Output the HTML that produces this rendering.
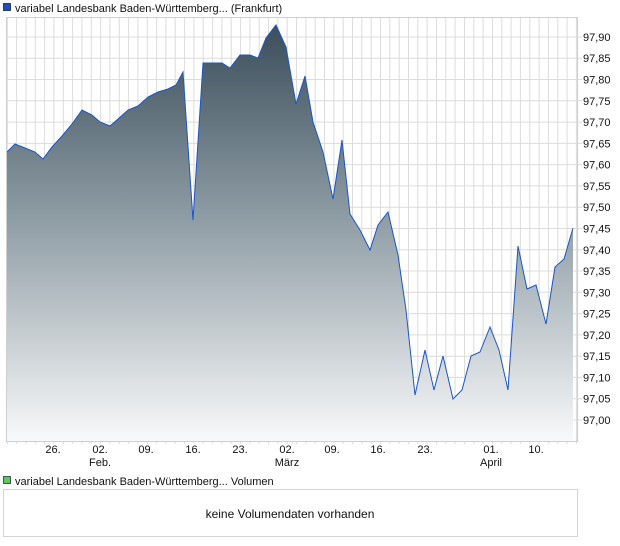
<!DOCTYPE html>
<html><head><meta charset="utf-8"><style>
body{margin:0;background:#fff;}
svg{display:block;font-family:"Liberation Sans",sans-serif;}
</style></head><body>
<svg width="620" height="546" viewBox="0 0 620 546">
<defs>
<linearGradient id="g" gradientUnits="userSpaceOnUse" x1="0" y1="25" x2="0" y2="441">
<stop offset="0" stop-color="#3b4e5b"/>
<stop offset="0.45" stop-color="#8c9aa2"/>
<stop offset="1" stop-color="#f8f9fa"/>
</linearGradient>
</defs>
<rect x="3.5" y="3.5" width="7" height="7" fill="#1f4fb0" stroke="#123" stroke-width="0.8"/>
<text x="15" y="12" font-size="11" fill="#111">variabel Landesbank Baden-Württemberg... (Frankfurt)</text>
<g id="grid" stroke="#dcdcdc" stroke-width="1"></g>
<polygon id="area" fill="url(#g)" points=""/>
<polyline id="line" fill="none" stroke="#1a56c8" stroke-width="1" points=""/>
<rect x="6.5" y="17.5" width="571" height="424" fill="none" stroke="#cfcfcf"/>
<g id="ylab" font-size="11" fill="#111"></g>
<g font-size="11" fill="#111" text-anchor="middle">
<text x="53" y="453">26.</text><text x="100" y="453">02.</text><text x="146" y="453">09.</text>
<text x="193" y="453">16.</text><text x="240" y="453">23.</text><text x="287" y="453">02.</text>
<text x="332" y="453">09.</text><text x="378" y="453">16.</text><text x="425" y="453">23.</text>
<text x="491" y="453">01.</text><text x="536" y="453">10.</text>
<text x="100" y="466">Feb.</text><text x="287" y="466">März</text><text x="491" y="466">April</text>
</g>
<rect x="3.5" y="476.5" width="7" height="7" fill="#5cc85c" stroke="#234" stroke-width="0.8"/>
<text x="15" y="485" font-size="11" fill="#111">variabel Landesbank Baden-Württemberg... Volumen</text>
<rect x="3.5" y="489.5" width="574" height="47" fill="#fff" stroke="#d4d4d4"/>
<text x="290" y="518" font-size="12" fill="#111" text-anchor="middle">keine Volumendaten vorhanden</text>
</svg>
<script>
var pts=[[7,152],[15,144],[25,148],[35,152],[43,159],[52,147],[62,136],[72,124],[82,110],[92,115],[100,122],[110,126],[118,119],[128,110],[138,106],[148,97],[158,92],[168,89],[176,85],[183,72],[193,220],[203,63],[212,63],[222,63],[230,68],[240,55],[250,55],[258,58],[266,38],[276,25],[286,47],[296,104],[305,76],[313,122],[323,152],[333,199],[342,140],[350,214],[360,230],[370,250],[378,225],[388,212],[398,255],[406,310],[415,395],[425,350],[434,390],[443,356],[453,399],[462,390],[471,356],[480,352],[490,327],[499,350],[508,390],[518,246],[527,289],[536,285],[546,324],[555,267],[564,259],[573,228]];
var s=pts.map(function(p){return p.join(',')}).join(' ');
document.getElementById('line').setAttribute('points',s);
document.getElementById('area').setAttribute('points','7,441 '+s+' 573,441');
var g=document.getElementById('grid'),h='';
for(var x=7.3;x<577;x+=9.33){h+='<line x1="'+x.toFixed(1)+'" y1="18" x2="'+x.toFixed(1)+'" y2="441"/><line x1="'+x.toFixed(1)+'" y1="441" x2="'+x.toFixed(1)+'" y2="444"/>';}
for(var i=0;i<=18;i++){var y=420-i*21.28;h+='<line x1="7" y1="'+y.toFixed(1)+'" x2="582" y2="'+y.toFixed(1)+'"/>';}
g.innerHTML=h;
var yl='';
for(var i=0;i<=18;i++){var y=420-i*21.28;var v=(97+i*0.05).toFixed(2).replace('.',',');yl+='<text x="583" y="'+(y+4).toFixed(1)+'">'+v+'</text>';}
document.getElementById('ylab').innerHTML=yl;
</script>
</body></html>
